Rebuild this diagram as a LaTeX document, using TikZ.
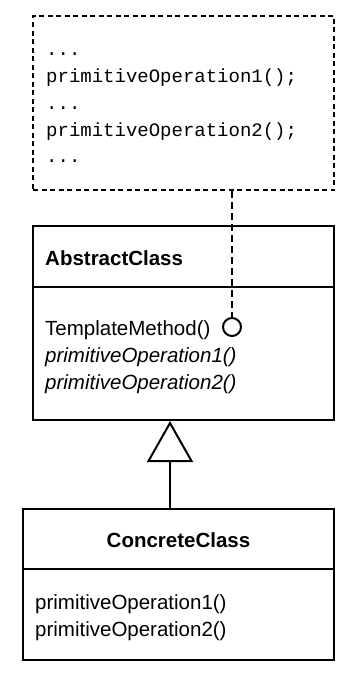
\documentclass[tikz,border=0pt]{standalone}
\usepackage{fontspec}
\setmainfont{Liberation Sans}
\setmonofont{Liberation Mono}
\usetikzlibrary{arrows.meta, math}

\begin{document}
\begin{tikzpicture}[x=1pt, y=-1pt,
  classbox/.style={draw, line width=2pt, inner sep=0pt},
  notebox/.style={draw, line width=1.5pt, dash pattern=on 5pt off 3.5pt, inner sep=0pt},
  opslist/.style={anchor=base west, inner sep=0pt, text width=280pt, align=left,
    font=\fontsize{20.5}{27}\selectfont},
  classname/.style={inner sep=0pt, font=\bfseries\fontsize{20.5}{27}\selectfont}]
\tikzmath{
\W=301;
}
\useasboundingbox (0,0) rectangle (352,680);

% note holding the template method body
\node[notebox, minimum width=\W pt, minimum height=174pt] (note) at (183.5,103) {};
\node[opslist, font=\ttfamily\fontsize{19}{27}\selectfont] (code) at (46,55)
  {...\\primitiveOperation1();\\...\\primitiveOperation2();\\...};

% abstract class
\node[classbox, minimum width=\W pt, minimum height=194pt] (abstract) at (183.5,323) {};
\draw[line width=2pt] ([yshift=36pt]abstract.west) -- ([yshift=36pt]abstract.east);
\node[classname, anchor=base west] (abstractname) at (45,265) {AbstractClass};
\node[opslist] (abstractops) at (45,335)
  {TemplateMethod()\\\textit{primitiveOperation1()}\\\textit{primitiveOperation2()}};
\node[draw, circle, line width=2pt, minimum size=18pt, inner sep=0pt] (hook) at (232,327) {};

\draw[notebox, dash pattern=on 7pt off 4pt] (note.south -| hook) -- (hook.north);

% concrete class
\node[classbox, minimum width=311pt, minimum height=151pt] (concrete) at (178.5,584.5) {};
\draw[line width=2pt] ([yshift=15.5pt]concrete.west) -- ([yshift=15.5pt]concrete.east);
\node[classname, anchor=base] (concretename) at (178.5,547) {ConcreteClass};
\node[opslist] (concreteops) at (35,609)
  {primitiveOperation1()\\primitiveOperation2()};

% generalisation
\coordinate (tip) at (170,421);
\draw[line width=2pt, -{Triangle[open, length=41pt, width=46pt]}] (concrete.north -| tip) -- (tip);

\end{tikzpicture}
\end{document}
